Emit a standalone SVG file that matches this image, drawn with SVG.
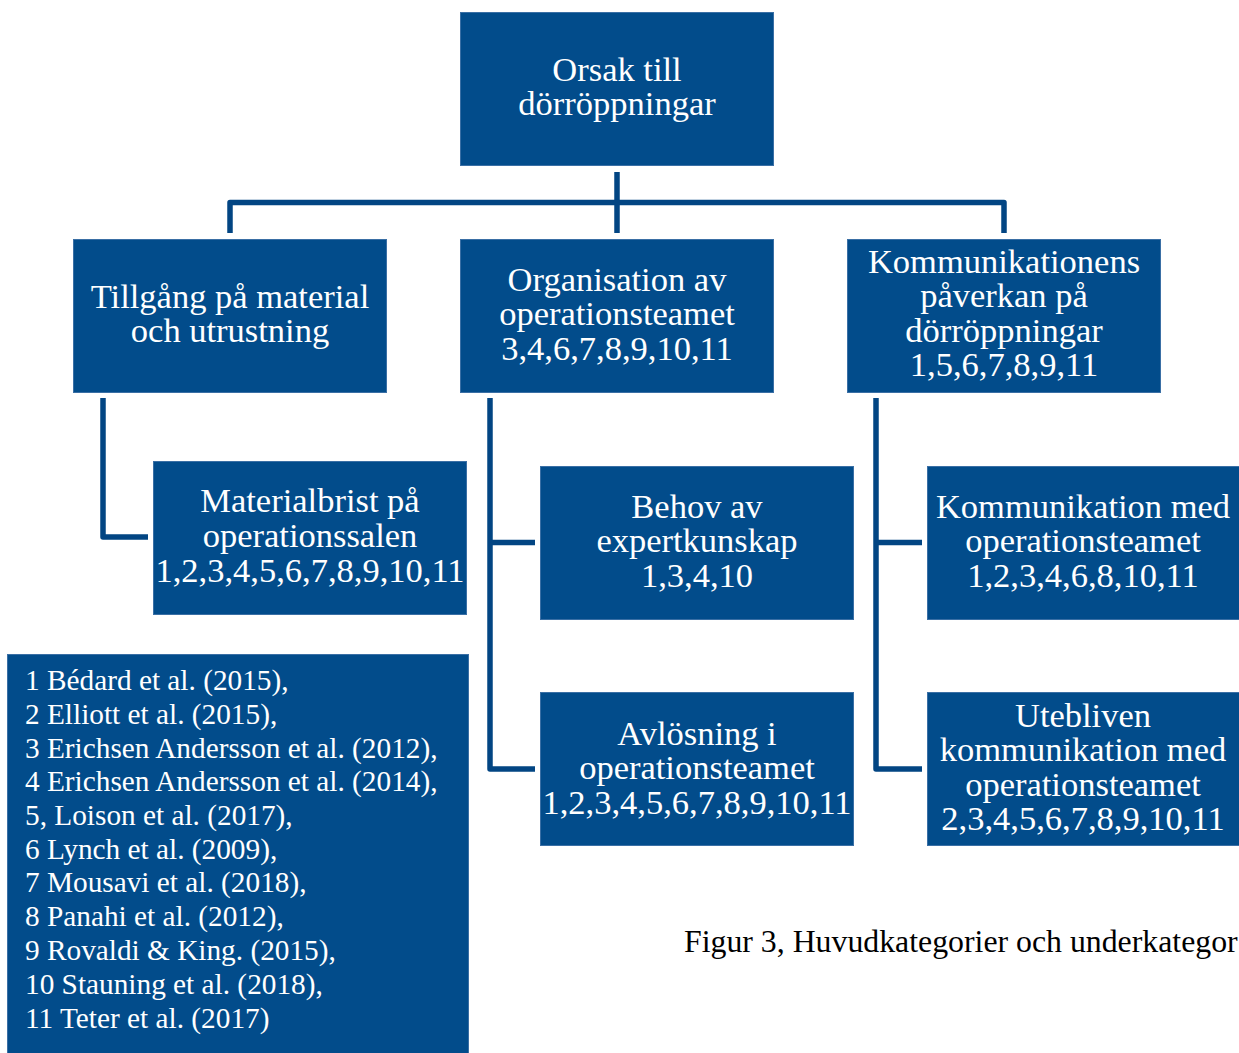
<svg xmlns="http://www.w3.org/2000/svg" width="1239" height="1053" viewBox="0 0 1239 1053">
<style>
.box{fill:#024C8B;stroke:#3A6FA5;stroke-width:1}
.t{font-family:"Liberation Serif","Times New Roman",serif;font-size:34.5px;fill:#FFFFFF;text-anchor:middle}
.lg{font-family:"Liberation Serif","Times New Roman",serif;font-size:29.3px;fill:#FFFFFF}
.cap{font-family:"Liberation Serif","Times New Roman",serif;font-size:31.8px;fill:#000000}
.c{fill:none;stroke:#024583;stroke-width:5.5;stroke-linejoin:round}
</style>
<rect width="1239" height="1053" fill="#FFFFFF"/>
<g id="connectors">
<path class="c" d="M617,172 V233"/>
<path class="c" d="M230,233 V202.5 H1004 V233"/>
<path class="c" d="M103,398 V537 H148"/>
<path class="c" d="M490,398 V769 H535 M490,542.5 H535"/>
<path class="c" d="M876,398 V769 H922 M876,542.5 H922"/>
</g>
<g id="root">
<rect class="box" x="460.5" y="12.5" width="313" height="153"/>
<text class="t" x="617" y="81">Orsak till</text>
<text class="t" x="617" y="115">dörröppningar</text>
</g>
<g id="tillgang">
<rect class="box" x="73.5" y="239.5" width="313" height="153"/>
<text class="t" x="230" y="308">Tillgång på material</text>
<text class="t" x="230" y="342">och utrustning</text>
</g>
<g id="organisation">
<rect class="box" x="460.5" y="239.5" width="313" height="153"/>
<text class="t" x="617" y="291">Organisation av</text>
<text class="t" x="617" y="325">operationsteamet</text>
<text class="t" x="617" y="360">3,4,6,7,8,9,10,11</text>
</g>
<g id="kommunikationens">
<rect class="box" x="847.5" y="239.5" width="313" height="153"/>
<text class="t" x="1004" y="273">Kommunikationens</text>
<text class="t" x="1004" y="307">påverkan på</text>
<text class="t" x="1004" y="342">dörröppningar</text>
<text class="t" x="1004" y="376">1,5,6,7,8,9,11</text>
</g>
<g id="materialbrist">
<rect class="box" x="153.5" y="461.5" width="313" height="153"/>
<text class="t" x="310" y="512">Materialbrist på</text>
<text class="t" x="310" y="547">operationssalen</text>
<text class="t" x="310" y="582">1,2,3,4,5,6,7,8,9,10,11</text>
</g>
<g id="behov">
<rect class="box" x="540.5" y="466.5" width="313" height="153"/>
<text class="t" x="697" y="518">Behov av</text>
<text class="t" x="697" y="552">expertkunskap</text>
<text class="t" x="697" y="587">1,3,4,10</text>
</g>
<g id="avlosning">
<rect class="box" x="540.5" y="692.5" width="313" height="153"/>
<text class="t" x="697" y="745">Avlösning i</text>
<text class="t" x="697" y="779">operationsteamet</text>
<text class="t" x="697" y="814">1,2,3,4,5,6,7,8,9,10,11</text>
</g>
<g id="kommunikation-med">
<rect class="box" x="927.5" y="466.5" width="313" height="153"/>
<text class="t" x="1083" y="518">Kommunikation med</text>
<text class="t" x="1083" y="552">operationsteamet</text>
<text class="t" x="1083" y="587">1,2,3,4,6,8,10,11</text>
</g>
<g id="utebliven">
<rect class="box" x="927.5" y="692.5" width="313" height="153"/>
<text class="t" x="1083" y="727">Utebliven</text>
<text class="t" x="1083" y="761">kommunikation med</text>
<text class="t" x="1083" y="796">operationsteamet</text>
<text class="t" x="1083" y="830">2,3,4,5,6,7,8,9,10,11</text>
</g>
<g id="legend">
<rect class="box" x="7.5" y="654.5" width="461" height="400"/>
<text class="lg" x="25" y="690">1 Bédard et al. (2015),</text>
<text class="lg" x="25" y="724">2 Elliott et al. (2015),</text>
<text class="lg" x="25" y="758">3 Erichsen Andersson et al. (2012),</text>
<text class="lg" x="25" y="791">4 Erichsen Andersson et al. (2014),</text>
<text class="lg" x="25" y="825">5, Loison et al. (2017),</text>
<text class="lg" x="25" y="859">6 Lynch et al. (2009),</text>
<text class="lg" x="25" y="892">7 Mousavi et al. (2018),</text>
<text class="lg" x="25" y="926">8 Panahi et al. (2012),</text>
<text class="lg" x="25" y="960">9 Rovaldi &amp; King. (2015),</text>
<text class="lg" x="25" y="994">10 Stauning et al. (2018),</text>
<text class="lg" x="25" y="1028">11 Teter et al. (2017)</text>
</g>
<text class="cap" x="684" y="952">Figur 3, Huvudkategorier och underkategor</text>
</svg>
